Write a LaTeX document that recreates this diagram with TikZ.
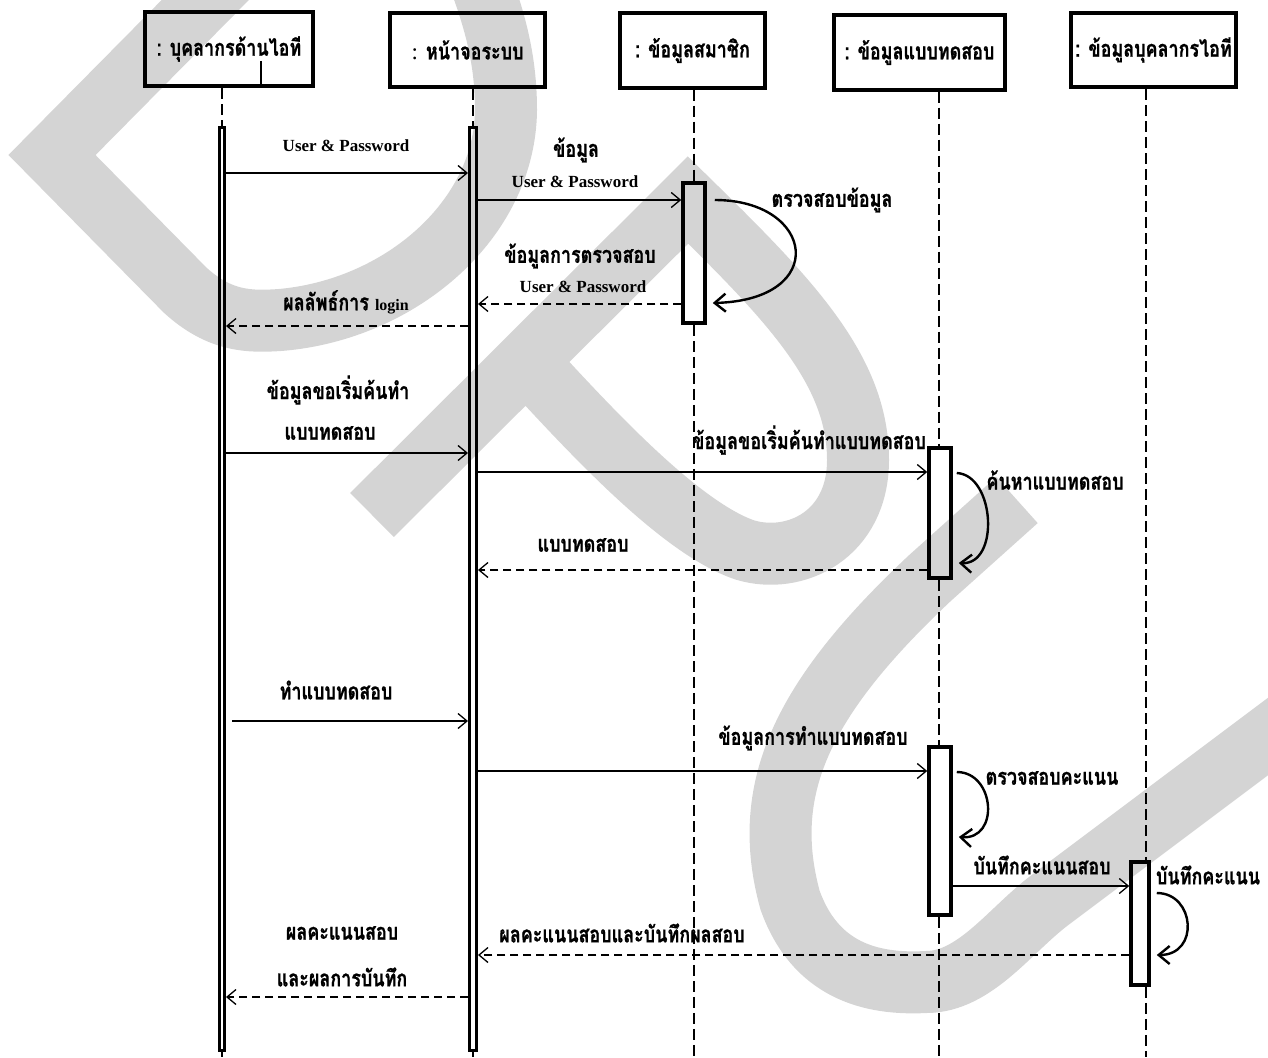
\documentclass[tikz,border=0pt]{standalone}
\usepackage{fontspec}
\setmainfont{Liberation Serif}
\newfontfamily\thai[Script=Thai,FakeStretch=0.78,BoldFeatures={FakeBold=0.8}]{Loma}
\usetikzlibrary{arrows.meta}
\definecolor{wmgray}{RGB}{212,212,212}

\tikzset{
  th/.style={font=\thai\bfseries\fontsize{23}{25}\selectfont, inner sep=0pt},
  en/.style={font=\bfseries\fontsize{17}{19}\selectfont, inner sep=0pt},
  objbox/.style={draw, line width=4pt, minimum height=74pt, inner sep=0pt,
                 font=\thai\bfseries\fontsize{23}{25}\selectfont},
  actbar/.style={draw, line width=3.5pt, inner sep=0pt, minimum width=22pt},
  thinbar/.style={draw, line width=3pt, inner sep=0pt},
  life/.style={line width=1.3pt, dash pattern=on 11pt off 5pt},
  msg/.style={line width=1.2pt, -{Straight Barb[length=9pt,width=15pt,line width=1.3pt]}},
  ret/.style={msg, dash pattern=on 8pt off 5pt},
  selfmsg/.style={line width=2.4pt, -{Straight Barb[length=11pt,width=18pt,line width=2.4pt]}},
  wm/.style={draw=wmgray, line width=62pt, line join=miter, line cap=butt}
}

\begin{document}
\begin{tikzpicture}[x=1pt,y=-1pt]
\useasboundingbox (0,0) rectangle (1268,1057);

% faint background marks
\begin{scope}
  \clip (0,0) rectangle (1268,1057);
  \draw[wm] (230,-25) -- (52,155) -- (185,290)
        .. controls (220,322) and (250,322) .. (280,320)
        .. controls (400,310) and (505,220) .. (506,110)
        .. controls (506,60) and (495,20) .. (478,-25);
  \draw[wm] (372,515) -- (688,200)
        .. controls (790,300) and (858,370) .. (858,460)
        .. controls (858,535) and (795,565) .. (745,550)
        .. controls (680,528) and (590,430) .. (530,365);
  \draw[wm] (1017,500) -- (930,578)
        .. controls (800,700) and (760,790) .. (790,900)
        .. controls (815,970) and (870,985) .. (926,982)
        .. controls (975,982) and (1010,930) .. (1050,900) -- (1310,705);
\end{scope}

% objects
\node[objbox, minimum width=168pt] (o1) at (229,49) {: บุคลากรด้านไอที};
\node[objbox, minimum width=155pt] (o2) at (467.5,50) {{\normalfont\mdseries :} หน้าจอระบบ};
\node[objbox, minimum width=145pt] (o3) at (692.5,50.5) {: ข้อมูลสมาชิก};
\node[objbox, minimum width=171pt] (o4) at (919.5,52.5) {: ข้อมูลแบบทดสอบ};
\node[objbox, minimum width=165pt] (o5) at (1153.5,50) {: ข้อมูลบุคลากรไอที};
\coordinate (tick) at (261,61);
\draw[line width=1.5pt] (tick) -- (tick |- o1.south);

% activation bars
\node[thinbar, minimum width=5pt, minimum height=923pt] (a1) at (222,588.5) {};
\node[thinbar, minimum width=7pt, minimum height=923pt] (a2) at (473,588.5) {};
\node[actbar, minimum height=140pt] (a3) at (694,253) {};
\node[actbar, minimum height=130pt] (a4) at (940,513) {};
\node[actbar, minimum height=168pt] (a5) at (940,831) {};
\node[actbar, minimum width=18pt, minimum height=123pt] (a6) at (1140,923.5) {};

% lifelines
\coordinate (e1) at (222,1057);
\coordinate (e2) at (473,1057);
\coordinate (e3) at (694,1057);
\coordinate (e4) at (939,1057);
\coordinate (e5) at (1146,1057);
\draw[life] (o1.south -| a1) -- (a1.north);
\draw[life] (a1.south) -- (e1);
\draw[life] (o2.south -| a2) -- (a2.north);
\draw[life] (a2.south) -- (e2);
\draw[life] (o3.south -| a3) -- (a3.north);
\draw[life] (a3.south) -- (e3);
\draw[life] (o4.south -| e4) -- (a4.north -| e4);
\draw[life] (a4.south -| e4) -- (a5.north -| e4);
\draw[life] (a5.south -| e4) -- (e4);
\draw[life] (o5.south -| e5) -- (a6.north -| e5);
\draw[life] (a6.south -| e5) -- (e5);

% messages
\draw[msg] (a1.east |- 0,173) -- (a2.west |- 0,173);
\node[en] (t1) at (346,146) {User \& Password};

\draw[msg] (a2.east |- 0,200) -- (a3.west |- 0,200);
\node[th] (t2a) at (576,150) {ข้อมูล};
\node[en] (t2b) at (575,182) {User \& Password};

\draw[selfmsg] ([xshift=8pt]a3.east |- 0,200) .. controls (815,200) and (830,300) .. ([xshift=6pt]a3.east |- 0,303);
\node[th] (t3) at (832,200) {ตรวจสอบข้อมูล};

\draw[ret] (a3.west |- 0,304) -- (a2.east |- 0,304);
\node[th] (t4a) at (580,256) {ข้อมูลการตรวจสอบ};
\node[en] (t4b) at (583,287) {User \& Password};

\draw[ret] (a2.west |- 0,326) -- (a1.east |- 0,326);
\node[th] (t5) at (346,302) {ผลลัพธ์การ {\normalfont\bfseries\fontsize{16}{18}\selectfont login}};

\draw[msg] (a1.east |- 0,453) -- (a2.west |- 0,453);
\node[th] (t6a) at (338,390) {ข้อมูลขอเริ่มค้นทำ};
\node[th] (t6b) at (330,433) {แบบทดสอบ};

\draw[msg] (a2.east |- 0,472) -- (a4.west |- 0,472);
\node[th] (t7) at (809,440) {ข้อมูลขอเริ่มค้นทำแบบทดสอบ};

\draw[selfmsg] ([xshift=4pt]a4.east |- 0,473) .. controls (995,475) and (1000,565) .. ([xshift=6pt]a4.east |- 0,563);
\node[th] (t8) at (1055,480) {ค้นหาแบบทดสอบ};

\draw[ret] (a4.west |- 0,570) -- (a2.east |- 0,570);
\node[th] (t9) at (583,545) {แบบทดสอบ};

\draw[msg] ([xshift=6pt]a1.east |- 0,721) -- (a2.west |- 0,721);
\node[th] (t10) at (336,690) {ทำแบบทดสอบ};

\draw[msg] (a2.east |- 0,771) -- (a5.west |- 0,771);
\node[th] (t11) at (813,738) {ข้อมูลการทำแบบทดสอบ};

\draw[selfmsg] ([xshift=4pt]a5.east |- 0,772) .. controls (995,772) and (1000,840) .. ([xshift=6pt]a5.east |- 0,837);
\node[th] (t12) at (1052,778) {ตรวจสอบคะแนน};

\draw[msg] (a5.east |- 0,886) -- (a6.west |- 0,886);
\node[th] (t13) at (1042,865) {บันทึกคะแนนสอบ};

\draw[selfmsg] ([xshift=6pt]a6.east |- 0,893) .. controls (1195,893) and (1200,955) .. ([xshift=6pt]a6.east |- 0,955);
\node[th] (t14) at (1208,875) {บันทึกคะแนน};

\draw[ret] (a6.west |- 0,955) -- (a2.east |- 0,955);
\node[th] (t15) at (622,933) {ผลคะแนนสอบและบันทึกผลสอบ};

\draw[ret] (a2.west |- 0,997) -- (a1.east |- 0,997);
\node[th] (t16a) at (342,933) {ผลคะแนนสอบ};
\node[th] (t16b) at (342,977) {และผลการบันทึก};

\end{tikzpicture}
\end{document}
